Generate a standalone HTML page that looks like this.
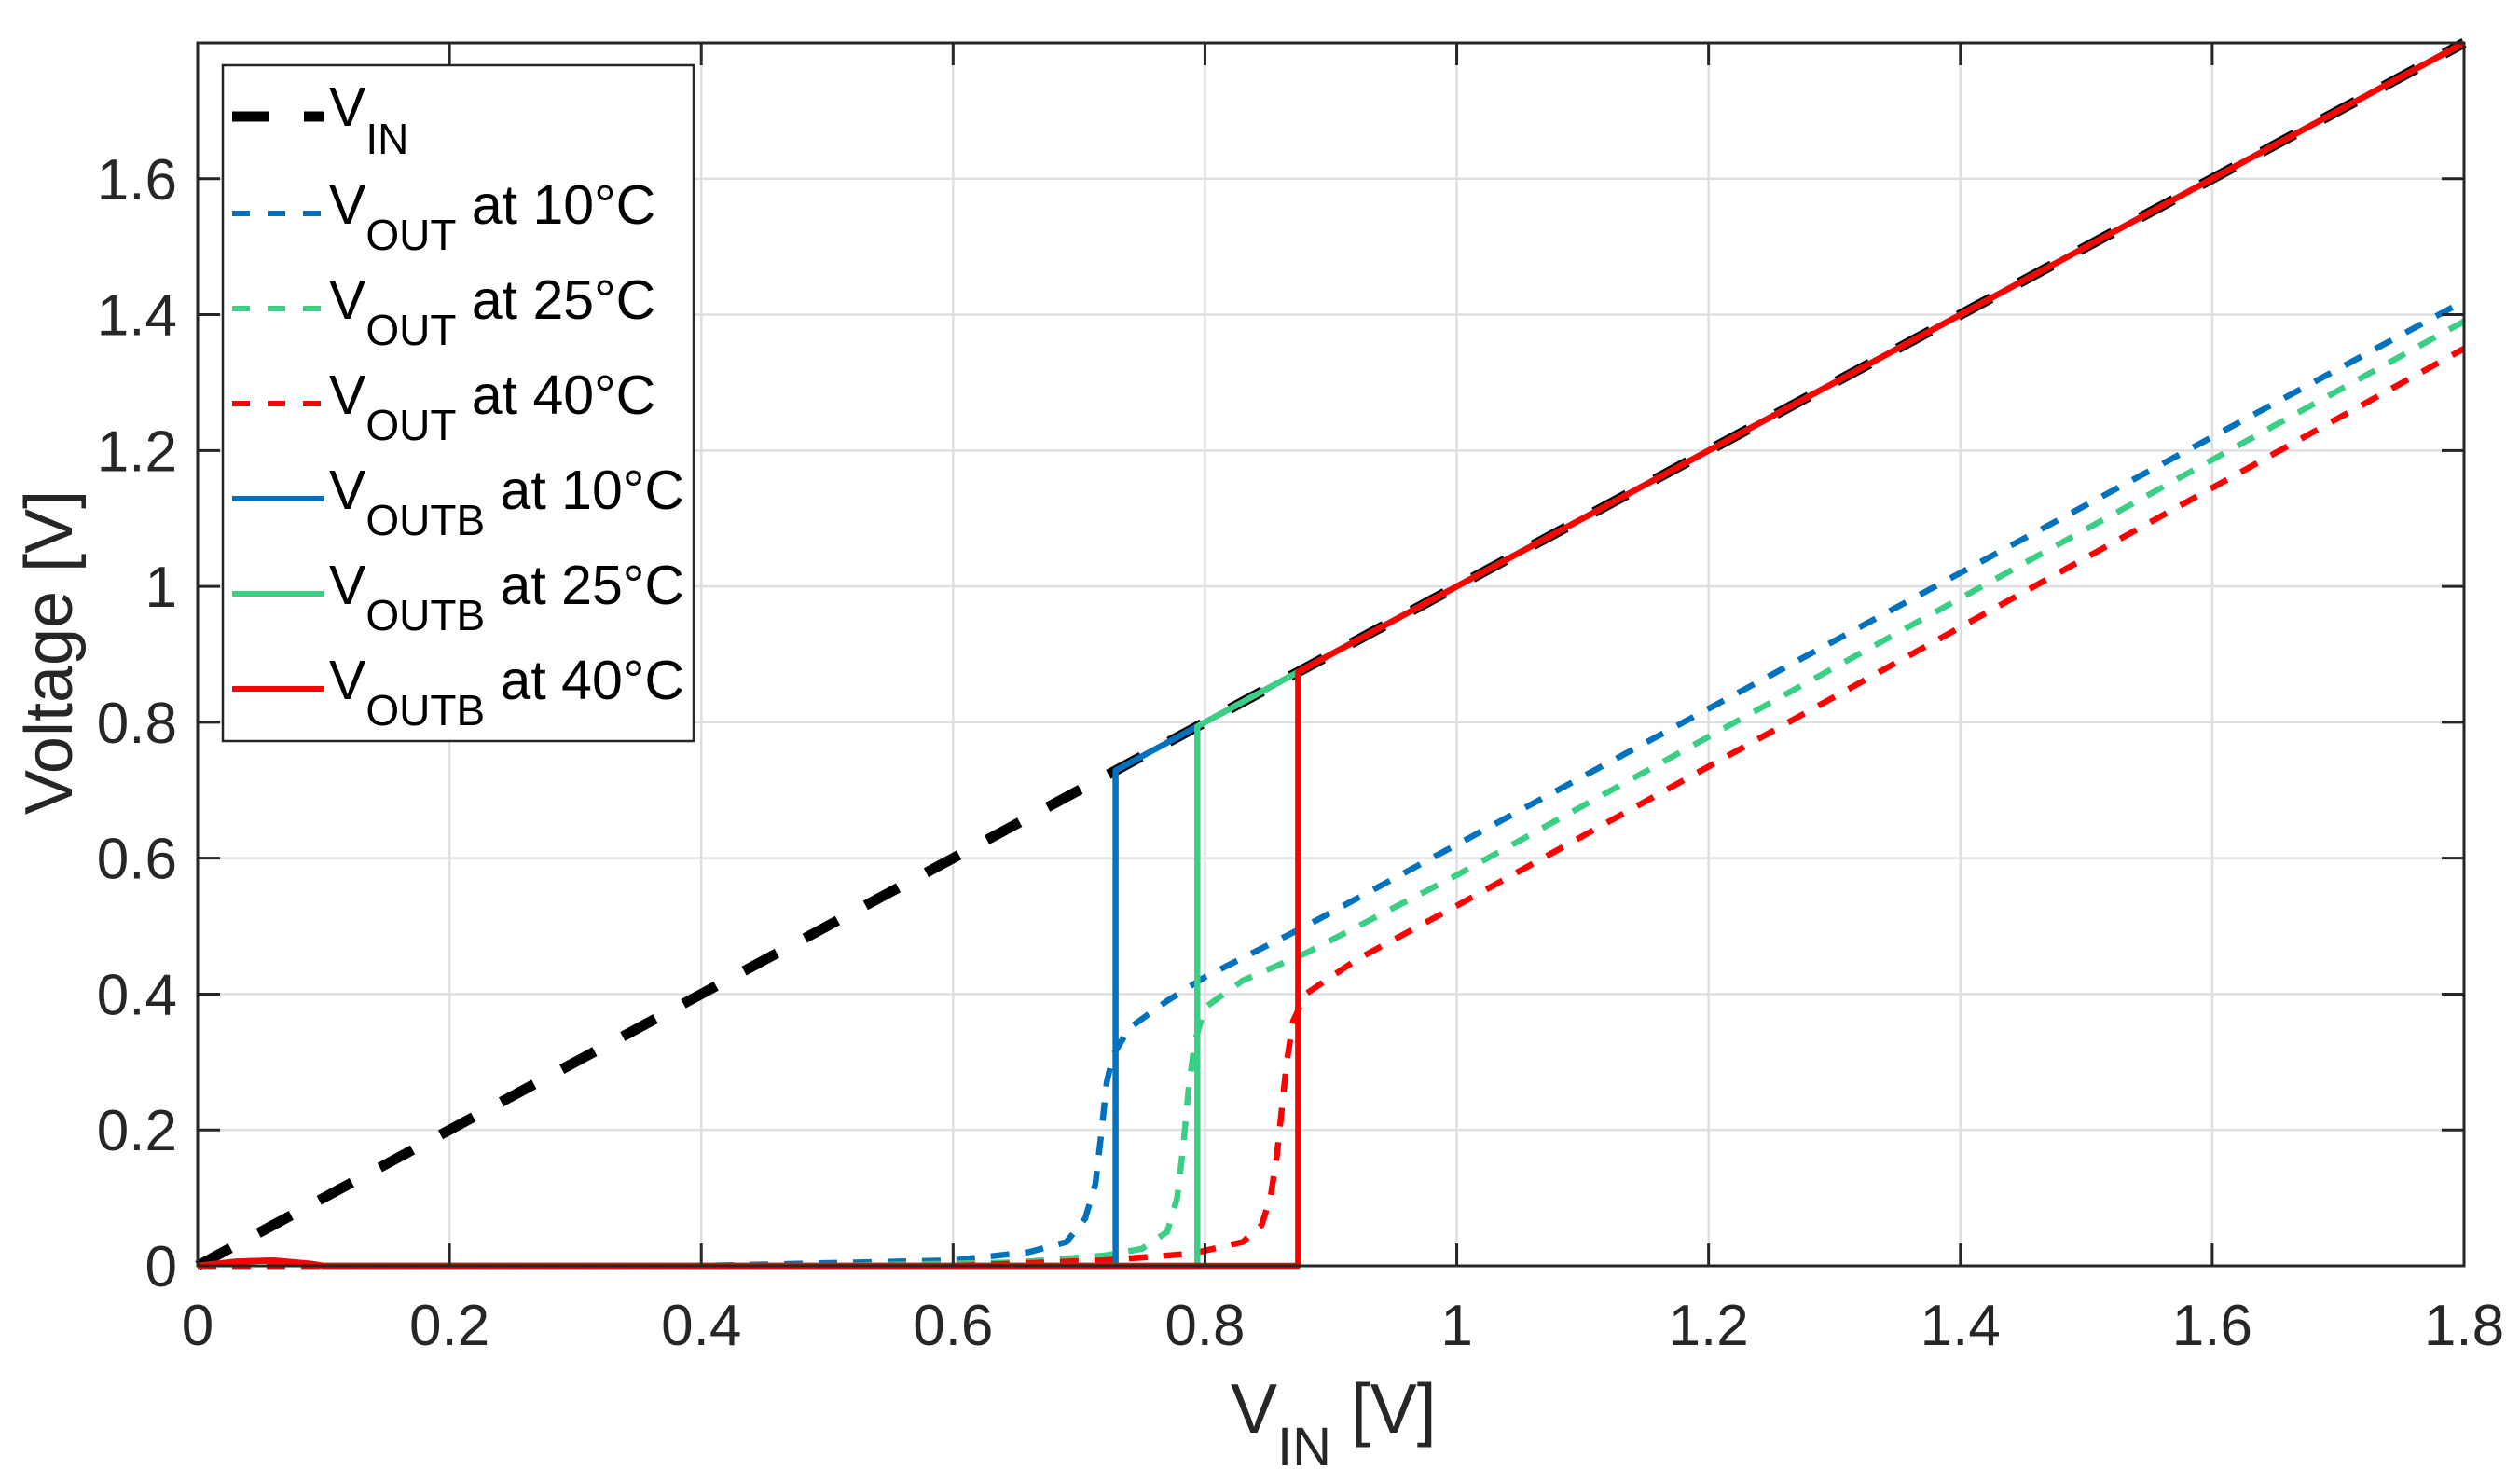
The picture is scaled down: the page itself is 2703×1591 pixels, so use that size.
<!DOCTYPE html>
<html><head><meta charset="utf-8"><style>
html,body{margin:0;padding:0;background:#fff;}
svg{display:block;font-family:"Liberation Sans",sans-serif;}
</style></head><body>
<svg id="chart" width="2703" height="1591" viewBox="0 0 2703 1591" xmlns="http://www.w3.org/2000/svg"></svg>
<script>
const xTicks=[0,0.2,0.4,0.6,0.8,1,1.2,1.4,1.6,1.8];
const xTickLabels=["0","0.2","0.4","0.6","0.8","1","1.2","1.4","1.6","1.8"];
const yTicks=[0,0.2,0.4,0.6,0.8,1,1.2,1.4,1.6];
const yTickLabels=["0","0.2","0.4","0.6","0.8","1","1.2","1.4","1.6"];
const vinX=[0,1.8];
const vinY=[0,1.8];
const voutBlueX=[0,0.1,0.4,0.6,0.66,0.69,0.705,0.713,0.718,0.722,0.727,0.74,0.77,0.8,0.88,1.0,1.8];
const voutBlueY=[0,0,0,0.008,0.02,0.035,0.07,0.12,0.2,0.27,0.31,0.35,0.39,0.425,0.5,0.62,1.42];
const voutGreenX=[0,0.1,0.5,0.65,0.72,0.75,0.77,0.778,0.783,0.787,0.792,0.8,0.83,0.88,1.0,1.8];
const voutGreenY=[0,0,0,0.005,0.015,0.025,0.05,0.1,0.18,0.26,0.33,0.38,0.42,0.46,0.575,1.39];
const voutRedX=[0,0.1,0.6,0.72,0.79,0.83,0.845,0.852,0.857,0.861,0.865,0.87,0.88,0.92,1.0,1.8];
const voutRedY=[0,0,0,0.008,0.018,0.035,0.06,0.1,0.16,0.23,0.3,0.36,0.4,0.45,0.53,1.35];
const thresholds=[0.729,0.794,0.874];
const bumpX=[0,0.03,0.06,0.09,0.1];
const bumpY=[0,0.006,0.008,0.003,0];

const svg=document.getElementById('chart');
const NS='http://www.w3.org/2000/svg';
const L=212,R=2643,T=46,B=1358;
const sx=v=>L+(v-0)/(1.8)*(R-L);
const sy=v=>B-(v-0)/(1.8)*(B-T);
function mk(tag,attrs,parent){const e=document.createElementNS(NS,tag);for(const k in attrs)e.setAttribute(k,attrs[k]);(parent||svg).appendChild(e);return e;}

const grid=mk('g',{});


xTicks.forEach(v=>{const l=mk('line',{x1:sx(v),x2:sx(v),y1:T,y2:B,stroke:'#dfdfdf','stroke-width':2.5},grid);

});
yTicks.forEach(v=>{const l=mk('line',{x1:L,x2:R,y1:sy(v),y2:sy(v),stroke:'#dfdfdf','stroke-width':2.5},grid);

});

function poly(xs,ys,color,w,dash,name){
  const d=xs.map((x,i)=>(i?'L':'M')+sx(x).toFixed(1)+' '+sy(ys[i]).toFixed(1)).join(' ');
  const p=mk('path',{d:d,fill:'none',stroke:color,'stroke-width':w,'stroke-linejoin':'round'});
  if(dash)p.setAttribute('stroke-dasharray',dash);
  
  
  return p;
}
poly(vinX,vinY,'#000',11,'40 34','vin-line');
poly(voutBlueX,voutBlueY,'#0072BD',6.5,'20 17','vout-10c-line');
poly(voutGreenX,voutGreenY,'#3ACF85',6.5,'20 17','vout-25c-line');
poly(voutRedX,voutRedY,'#FF0000',6.5,'20 17','vout-40c-line');
const solidColors=['#0072BD','#3ACF85','#FF0000'];
const solidNames=['voutb-10c-line','voutb-25c-line','voutb-40c-line'];
thresholds.forEach((t,i)=>{
  const xs=bumpX.concat([t,t,1.8]);
  const ys=bumpY.concat([0,t,1.8]);
  poly(xs,ys,solidColors[i],6.5,null,solidNames[i]);
});

const box=mk('rect',{x:L,y:T,width:R-L,height:B-T,fill:'none',stroke:'#262626','stroke-width':3});


xTicks.forEach((v,i)=>{
  const a=mk('line',{x1:sx(v),x2:sx(v),y1:B,y2:B-24,stroke:'#262626','stroke-width':3});
  
  
  const b=mk('line',{x1:sx(v),x2:sx(v),y1:T,y2:T+24,stroke:'#262626','stroke-width':3});
  
  
  const t=mk('text',{x:sx(v),y:1443,'text-anchor':'middle','font-size':62,fill:'#262626'});
  t.textContent=xTickLabels[i];
  
  
});
yTicks.forEach((v,i)=>{
  const a=mk('line',{x1:L,x2:L+24,y1:sy(v),y2:sy(v),stroke:'#262626','stroke-width':3});
  
  
  const b=mk('line',{x1:R,x2:R-24,y1:sy(v),y2:sy(v),stroke:'#262626','stroke-width':3});
  
  
  const t=mk('text',{x:190,y:sy(v)+22,'text-anchor':'end','font-size':62,fill:'#262626'});
  t.textContent=yTickLabels[i];
  
  
});
</script>
<svg style="position:absolute;left:0;top:0" width="2703" height="1591" xmlns="http://www.w3.org/2000/svg" font-family="Liberation Sans, sans-serif">
  <text x="0" y="0" transform="translate(77,700) rotate(-90)" text-anchor="middle" font-size="72" fill="#262626">Voltage [V]</text>
  <text x="1320" y="1537" font-size="75" fill="#262626">V<tspan font-size="58" dy="35">IN</tspan><tspan dy="-35"> [V]</tspan></text>
  <g>
    <rect x="239" y="70" width="505" height="725" fill="#fff" stroke="#262626" stroke-width="2.5"/>
    <g>
      <line x1="249" x2="347" y1="125" y2="125" stroke="#000" stroke-width="11" stroke-dasharray="39 38"/>
      <text x="353" y="135" font-size="59" fill="#000">V<tspan font-size="46" dy="30">IN</tspan></text>
    </g>
    <g>
      <line x1="249" x2="347" y1="229" y2="229" stroke="#0072BD" stroke-width="6" stroke-dasharray="19 19"/>
      <text x="353" y="240" font-size="59" fill="#000">V<tspan font-size="46" dy="28">OUT</tspan><tspan dy="-28"> at 10°C</tspan></text>
    </g>
    <g>
      <line x1="249" x2="347" y1="331" y2="331" stroke="#3ACF85" stroke-width="6" stroke-dasharray="19 19"/>
      <text x="353" y="342" font-size="59" fill="#000">V<tspan font-size="46" dy="28">OUT</tspan><tspan dy="-28"> at 25°C</tspan></text>
    </g>
    <g>
      <line x1="249" x2="347" y1="433" y2="433" stroke="#FF0000" stroke-width="6" stroke-dasharray="19 19"/>
      <text x="353" y="444" font-size="59" fill="#000">V<tspan font-size="46" dy="28">OUT</tspan><tspan dy="-28"> at 40°C</tspan></text>
    </g>
    <g>
      <line x1="249" x2="347" y1="535" y2="535" stroke="#0072BD" stroke-width="6"/>
      <text x="353" y="546" font-size="59" fill="#000">V<tspan font-size="46" dy="28">OUTB</tspan><tspan dy="-28"> at 10°C</tspan></text>
    </g>
    <g>
      <line x1="249" x2="347" y1="637" y2="637" stroke="#3ACF85" stroke-width="6"/>
      <text x="353" y="648" font-size="59" fill="#000">V<tspan font-size="46" dy="28">OUTB</tspan><tspan dy="-28"> at 25°C</tspan></text>
    </g>
    <g>
      <line x1="249" x2="347" y1="739" y2="739" stroke="#FF0000" stroke-width="6"/>
      <text x="353" y="750" font-size="59" fill="#000">V<tspan font-size="46" dy="28">OUTB</tspan><tspan dy="-28"> at 40°C</tspan></text>
    </g>
  </g>
</svg>
</body></html>
